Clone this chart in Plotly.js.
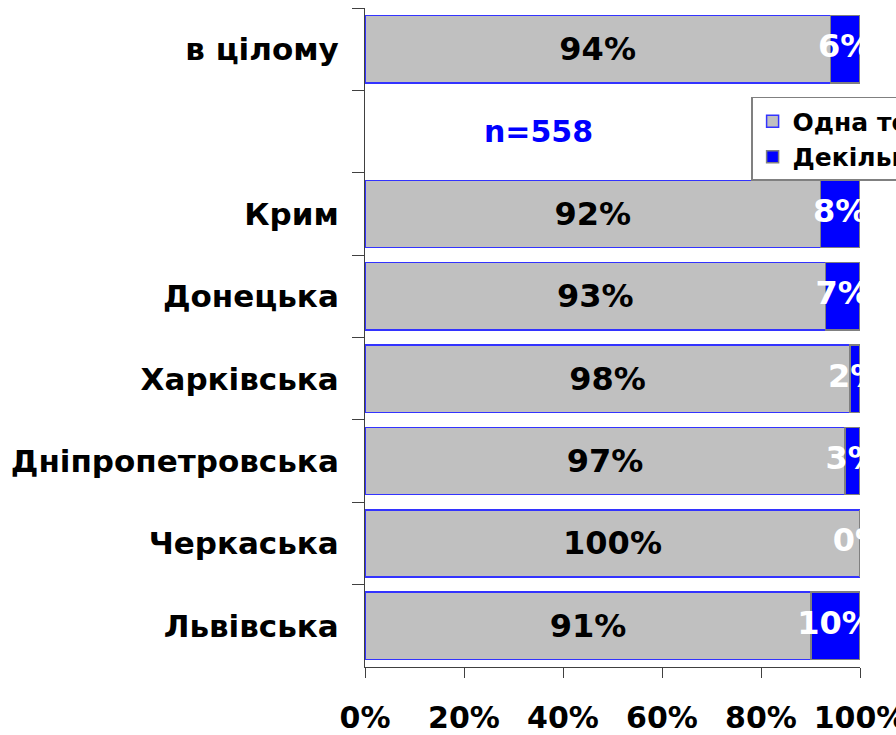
<!DOCTYPE html>
<html>
<head>
<meta charset="utf-8">
<script src="https://cdn.plot.ly/plotly-3.0.1.min.js"></script>
<style>
html,body{margin:0;padding:0;width:896px;height:735px;overflow:hidden;background:#fff;}
#chart{width:1200px;height:735px;}
</style>
</head>
<body>
<div id="chart"></div>
<script>
const categories = ['в цілому', ' ', 'Крим', 'Донецька', 'Харківська', 'Дніпропетровська', 'Черкаська', 'Львівська'];
const oneValues = [94, null, 92, 93, 98, 97, 100, 91];
const manyValues = [6, null, 8, 7, 2, 3, 0, 10];
const seriesNames = ['Одна точка', 'Декілька точок'];
const sampleNote = 'n=558';
const xTicks = [0, 20, 40, 60, 80, 100];

const fontFam = 'Verdana, "DejaVu Sans", sans-serif';
const pct = v => (v === null ? '' : v + '%');

const traceOne = {
  type: 'bar', orientation: 'h', name: seriesNames[0],
  y: categories, x: oneValues,
  text: oneValues.map(pct), texttemplate: '%{text}',
  textposition: 'inside', insidetextanchor: 'middle', textangle: 0, constraintext: 'none',
  textfont: {family: fontFam, size: 32, color: '#000', weight: 'bold'},
  marker: {color: '#c0c0c0', line: {color: '#3333ff', width: 1.5}},
  hoverinfo: 'none'
};
const traceMany = {
  type: 'bar', orientation: 'h', name: seriesNames[1],
  y: categories, x: manyValues,
  textposition: 'none',
  marker: {color: '#0000ff', line: {color: '#808080', width: 1.5}},
  hoverinfo: 'none'
};
// labels of the second series, centred on its (normalised) segment
const manyLabelX = oneValues.map((g, i) => {
  const b = manyValues[i];
  if (g === null || b === null) return null;
  return (g + b / 2) / (g + b) * 100;
});
const traceManyLabels = {
  type: 'scatter', mode: 'text', showlegend: false,
  y: categories, x: manyLabelX,
  text: manyValues.map(pct), textposition: 'middle center',
  textfont: {family: fontFam, size: 32, color: '#fff', weight: 'bold'},
  cliponaxis: true, hoverinfo: 'none'
};

const layout = {
  width: 1200, height: 735,
  margin: {l: 365, r: 340, t: 8, b: 68},
  paper_bgcolor: '#fff', plot_bgcolor: '#fff',
  barmode: 'stack', barnorm: 'percent', bargap: 0.185,
  showlegend: true,
  legend: {
    x: 0.78, y: 0.865, xanchor: 'left', yanchor: 'top',
    bordercolor: '#808080', borderwidth: 1.5, bgcolor: '#fff',
    font: {family: fontFam, size: 25, color: '#000', weight: 'bold'},
    traceorder: 'normal', itemwidth: 30, tracegroupgap: 0
  },
  xaxis: {
    range: [0, 100], fixedrange: true,
    tickvals: xTicks, ticktext: xTicks.map(v => v + '%'),
    showgrid: false, zeroline: false,
    showline: true, linecolor: '#404040', linewidth: 1,
    ticks: 'outside', ticklen: 10, tickcolor: '#404040',
    ticklabelstandoff: 14,
    tickfont: {family: fontFam, size: 30, color: '#000', weight: 'bold'}
  },
  yaxis: {
    type: 'category', categoryorder: 'array', categoryarray: categories,
    autorange: 'reversed', fixedrange: true,
    showgrid: false, zeroline: false,
    showline: true, linecolor: '#404040', linewidth: 1,
    ticks: 'outside', tickson: 'boundaries', ticklen: 12, tickcolor: '#404040',
    ticklabelstandoff: 19,
    tickfont: {family: fontFam, size: 31, color: '#000', weight: 'bold'}
  },
  annotations: [{
    xref: 'paper', yref: 'y', x: 0.35, y: categories[1],
    text: sampleNote, showarrow: false,
    font: {family: fontFam, size: 30, color: '#0000ff', weight: 'bold'}
  }]
};

Plotly.newPlot('chart', [traceOne, traceMany, traceManyLabels], layout, {displayModeBar: false, staticPlot: true});
</script>
</body>
</html>
